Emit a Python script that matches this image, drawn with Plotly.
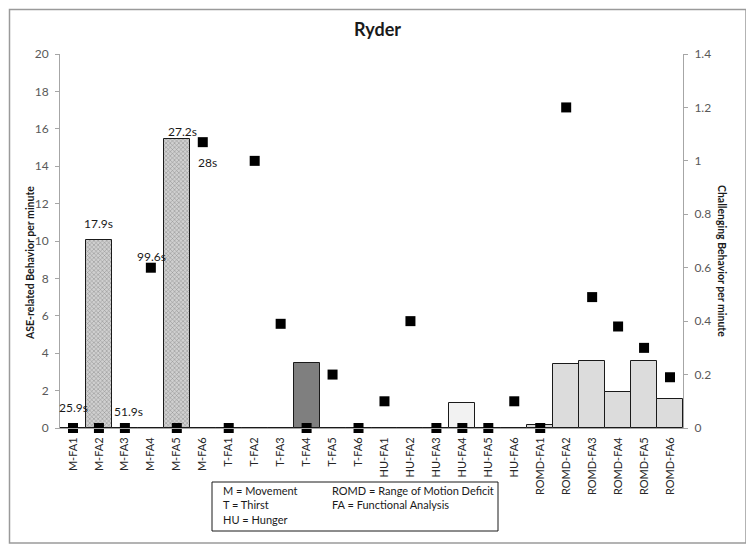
import plotly.graph_objects as go

categories = ["M-FA1", "M-FA2", "M-FA3", "M-FA4", "M-FA5", "M-FA6",
              "T-FA1", "T-FA2", "T-FA3", "T-FA4", "T-FA5", "T-FA6",
              "HU-FA1", "HU-FA2", "HU-FA3", "HU-FA4", "HU-FA5", "HU-FA6",
              "ROMD-FA1", "ROMD-FA2", "ROMD-FA3", "ROMD-FA4", "ROMD-FA5", "ROMD-FA6"]

ase_per_min = [0, 10.05, 0, 0, 15.45, 0,
               0, 0, 0, 3.45, 0, 0,
               0, 0, 0, 1.34, 0, 0,
               0.17, 3.4, 3.6, 1.9, 3.6, 1.57]

challenging_per_min = [0, 0, 0, 0.6, 0, 1.07,
                       0, 1.0, 0.39, 0, 0.2, 0,
                       0.1, 0.4, 0, 0, 0, 0.1,
                       0, 1.2, 0.49, 0.38, 0.3, 0.19]

# duration labels: (category, text, anchor series)
duration_labels = [("M-FA1", "25.9s", "challenging"),
                   ("M-FA2", "17.9s", "ase"),
                   ("M-FA3", "51.9s", "challenging"),
                   ("M-FA4", "99.6s", "challenging"),
                   ("M-FA5", "27.2s", "ase"),
                   ("M-FA6", "28s", "challenging")]

legend_lines_left = ["M = Movement", "T = Thirst", "HU = Hunger"]
legend_lines_right = ["ROMD = Range of Motion Deficit", "FA = Functional Analysis"]

# styling per category group
def bar_fill(cat):
    if cat.startswith("M-"):
        return "#d0d0d0", "x"
    if cat.startswith("T-"):
        return "#7f7f7f", ""
    if cat.startswith("HU-"):
        return "#f2f2f2", ""
    return "#dcdcdc", ""

fills = [bar_fill(c) for c in categories]
FONT = "Lato, 'Open Sans', sans-serif"

# the page body adds an 8px offset; layout is expressed in reference pixels
OFF = 8
W, H = 754, 552
PL, PR, PT, PB = 60, 683, 54, 428      # plot area in reference pixels
ML, MT = PL - OFF, PT - OFF
PW, PH = PR - PL, PB - PT
MR, MB = W - ML - PW, H - MT - PH

def px_x(p):
    return (p - PL) / PW

def px_y(p):
    return (PB - p) / PH

fig = go.Figure()
fig.add_trace(go.Bar(
    x=categories, y=ase_per_min, yaxis="y",
    marker=dict(color=[f[0] for f in fills],
                line=dict(color="#1a1a1a", width=1),
                pattern=dict(shape=[f[1] for f in fills], fgcolor="#7a7a7a",
                             bgcolor="#dadada", size=3, solidity=0.3)),
    showlegend=False))
fig.add_trace(go.Scatter(
    x=categories, y=challenging_per_min, yaxis="y2", mode="markers",
    marker=dict(symbol="square", size=10, color="black"),
    cliponaxis=False, showlegend=False))

annotations = []
shift = {"M-FA1": (1, 21), "M-FA2": (0, 17), "M-FA3": (4, 17),
         "M-FA4": (1, 11), "M-FA5": (6, 8), "M-FA6": (5, -20)}
for cat, txt, series in duration_labels:
    i = categories.index(cat)
    if series == "ase":
        yv, yr = ase_per_min[i], "y"
    else:
        yv, yr = challenging_per_min[i], "y2"
    dx, dy = shift[cat]
    annotations.append(dict(x=cat, y=yv, xref="x", yref=yr, text=txt,
                            showarrow=False, xshift=dx, yshift=dy,
                            font=dict(family=FONT, size=12, color="#1a1a1a")))

# key box text
for j, t in enumerate(legend_lines_left):
    annotations.append(dict(x=px_x(221), y=px_y(490 + j * 14.5), xref="paper", yref="paper",
                            text=t, showarrow=False, xanchor="left", yanchor="middle",
                            font=dict(family=FONT, size=11, color="#1a1a1a")))
for j, t in enumerate(legend_lines_right):
    annotations.append(dict(x=px_x(330), y=px_y(490 + j * 14.5), xref="paper", yref="paper",
                            text=t, showarrow=False, xanchor="left", yanchor="middle",
                            font=dict(family=FONT, size=11, color="#1a1a1a")))

# title and axis titles
annotations.append(dict(x=px_x(377), y=px_y(29), xref="paper", yref="paper",
                        text="<b>Ryder</b>", showarrow=False,
                        xanchor="center", yanchor="middle",
                        font=dict(family=FONT, size=18, color="#1a1a1a")))
annotations.append(dict(x=px_x(30), y=px_y(263), xref="paper", yref="paper",
                        text="<b>ASE-related Behavior per minute</b>", showarrow=False,
                        textangle=-90, xanchor="center", yanchor="middle",
                        font=dict(family=FONT, size=10.5, color="#1a1a1a")))
annotations.append(dict(x=px_x(722), y=px_y(261), xref="paper", yref="paper",
                        text="<b>Challenging Behavior per minute</b>", showarrow=False,
                        textangle=90, xanchor="center", yanchor="middle",
                        font=dict(family=FONT, size=10.5, color="#1a1a1a")))

shapes = [
    dict(type="rect", xref="paper", yref="paper",
         x0=px_x(212), x1=px_x(498), y0=px_y(482), y1=px_y(531),
         line=dict(color="#1a1a1a", width=1), fillcolor="rgba(0,0,0,0)"),
    dict(type="rect", xref="paper", yref="paper",
         x0=px_x(9.5), x1=px_x(746), y0=px_y(9.5), y1=px_y(543),
         line=dict(color="#9a9a9a", width=1.5), fillcolor="rgba(0,0,0,0)", layer="below"),
]

axis_common = dict(showline=True, linecolor="#a6a6a6", linewidth=1,
                   ticks="outside", tickcolor="#a6a6a6", ticklen=4,
                   showgrid=False, zeroline=False, ticklabelstandoff=4,
                   tickfont=dict(family=FONT, size=12, color="#595959"))

fig.update_layout(
    width=W, height=H,
    margin=dict(l=ML, r=MR, t=MT, b=MB, autoexpand=False),
    paper_bgcolor="white", plot_bgcolor="white",
    bargap=0,
    xaxis=dict(type="category", range=[-0.5, len(categories) - 0.5],
               showline=True, linecolor="#a6a6a6", ticks="",
               tickangle=-90, showgrid=False, automargin=False, ticklabelstandoff=4,
               tickfont=dict(family=FONT, size=11, color="#262626")),
    yaxis=dict(range=[0, 20], dtick=2, automargin=False, **axis_common),
    yaxis2=dict(range=[0, 1.4], dtick=0.2, overlaying="y", side="right", automargin=False,
                **axis_common),
    annotations=annotations,
    shapes=shapes,
)

fig.write_html("out.html")
